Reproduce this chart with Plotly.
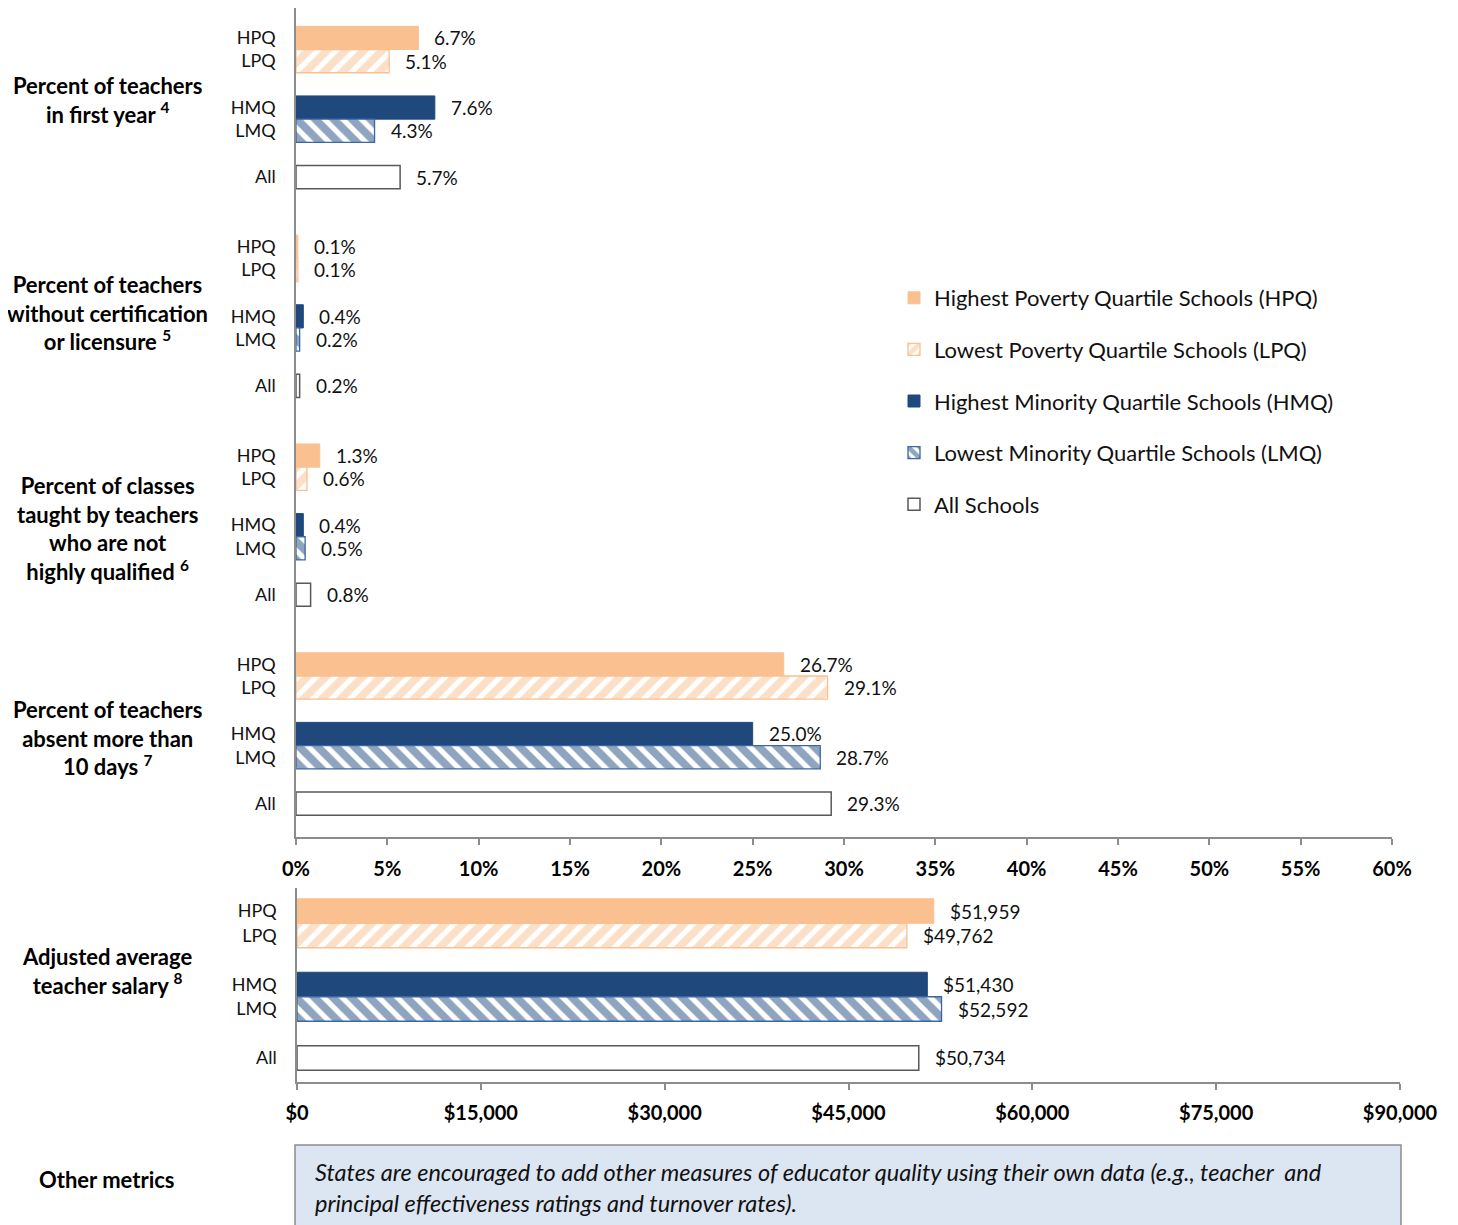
import plotly.graph_objects as go

# ---------------- data ----------------
categories = ["HPQ", "LPQ", "HMQ", "LMQ", "All"]
series_names = [
    "Highest Poverty Quartile Schools (HPQ)",
    "Lowest Poverty Quartile Schools (LPQ)",
    "Highest Minority Quartile Schools (HMQ)",
    "Lowest Minority Quartile Schools (LMQ)",
    "All Schools",
]
metric_labels = [
    "Percent of teachers<br>in first year <sup>4</sup>",
    "Percent of teachers<br>without certification<br>or licensure <sup>5</sup>",
    "Percent of classes<br>taught by teachers<br>who are not<br>highly qualified <sup>6</sup>",
    "Percent of teachers<br>absent more than<br>10 days <sup>7</sup>",
]
# values per metric, in category order HPQ, LPQ, HMQ, LMQ, All
first_year = [6.7, 5.1, 7.6, 4.3, 5.7]
no_cert = [0.1, 0.1, 0.4, 0.2, 0.2]
not_hq = [1.3, 0.6, 0.4, 0.5, 0.8]
absent = [26.7, 29.1, 25.0, 28.7, 29.3]
salary = [51959, 49762, 51430, 52592, 50734]
salary_label = "Adjusted average<br>teacher salary <sup>8</sup>"
other_label = "Other metrics"
other_text = ("States are encouraged to add other measures of educator quality using their own data (e.g., teacher  and<br>"
              "principal effectiveness ratings and turnover rates).")
pct_ticks = [0, 5, 10, 15, 20, 25, 30, 35, 40, 45, 50, 55, 60]
pct_tick_text = [f"{v}%" for v in pct_ticks]
sal_ticks = [0, 15000, 30000, 45000, 60000, 75000, 90000]
sal_tick_text = [f"${v:,}" for v in sal_ticks]

# ---------------- layout helpers ----------------
OFF = 8                      # page body margin
W, H = 1458 - OFF, 1225 - OFF
ML = 296 - OFF
MR = W - (1400 - OFF)
PW = W - ML - MR
def py(p):  # page pixel y -> paper
    return 1 - (p - OFF) / H
def px(p):  # page pixel x -> paper
    return (p - OFF - ML) / PW

slot = [0, 1, 3, 4, 6]     # within-group slot positions
group_step = 9

FONT = "Lato"
peach = "#FAC090"
navy = "#1F497D"
styles = [
    dict(color=peach, line=dict(color=peach, width=1)),
    dict(color="white", line=dict(color=peach, width=1.3),
         pattern=dict(shape="/", fgcolor=peach, bgcolor="white", size=13, solidity=0.6, fillmode="overlay")),
    dict(color=navy, line=dict(color=navy, width=1)),
    dict(color="white", line=dict(color="#3A67A3", width=1.3),
         pattern=dict(shape="\\", fgcolor=navy, bgcolor="white", size=13, solidity=0.6, fillmode="overlay")),
    dict(color="white", line=dict(color="#595959", width=1.5)),
]

metrics = [first_year, no_cert, not_hq, absent]

fig = go.Figure()
annotations = []
label_font = dict(family=FONT, size=19, color="#111")

# top subplot
for si, name in enumerate(series_names):
    xs = [m[si] for m in metrics]
    ys = [g * group_step + slot[si] for g in range(len(metrics))]
    fig.add_trace(go.Bar(
        x=xs, y=ys, orientation="h", width=1.0, name=name,
        marker=styles[si], legendgroup=name, showlegend=True,
        xaxis="x", yaxis="y", hoverinfo="x+name",
    ))
    for xv, yv in zip(xs, ys):
        annotations.append(dict(x=xv, y=yv, xref="x", yref="y", text=f"{xv:.1f}%",
                                showarrow=False, xanchor="left", xshift=14, yanchor="middle",
                                font=label_font))

# bottom subplot
for si, name in enumerate(series_names):
    fig.add_trace(go.Bar(
        x=[salary[si]], y=[slot[si]], orientation="h", width=1.0, name=name,
        marker=styles[si], legendgroup=name, showlegend=False,
        xaxis="x2", yaxis="y2", hoverinfo="x+name",
    ))
    annotations.append(dict(x=salary[si], y=slot[si], xref="x2", yref="y2", text=f"${salary[si]:,}",
                            showarrow=False, xanchor="left", xshift=14, yanchor="middle",
                            font=label_font))

# group labels
gl_font = dict(family=FONT, size=22, color="#000", weight="bold")
for lab, cy in zip(metric_labels, [100, 313, 528, 738]):
    annotations.append(dict(x=px(107), y=py(cy), xref="paper", yref="paper", text=lab,
                            showarrow=False, xanchor="center", yanchor="middle", align="center",
                            font=gl_font))
annotations.append(dict(x=px(107), y=py(971), xref="paper", yref="paper", text=salary_label,
                        showarrow=False, xanchor="center", yanchor="middle", align="center", font=gl_font))
annotations.append(dict(x=px(107), y=py(1179), xref="paper", yref="paper", text=other_label,
                        showarrow=False, xanchor="center", yanchor="middle", align="center", font=gl_font))
annotations.append(dict(x=px(313), y=py(1187), xref="paper", yref="paper", text=other_text,
                        showarrow=False, xanchor="left", yanchor="middle", align="left",
                        font=dict(family=FONT, size=23.5, color="#111", style="italic")))

shapes = [dict(type="rect", xref="paper", yref="paper", x0=px(295), x1=px(1401), y0=-0.05, y1=py(1145),
               fillcolor="#DCE6F2", line=dict(color="#8C8C8C", width=1.5), layer="below")]

top_ticks = [g * group_step + s for g in range(len(metrics)) for s in slot]
top_text = categories * len(metrics)

axis_common = dict(showgrid=False, zeroline=False, showline=True, linecolor="#8C8C8C", linewidth=1.5)
xtick_font = dict(family=FONT, size=20, color="#000", weight="bold")
fig.update_layout(
    width=W, height=H,
    margin=dict(l=ML, r=MR, t=0, b=0),
    plot_bgcolor="white", paper_bgcolor="white",
    barmode="overlay",
    font=dict(family=FONT, color="#111"),
    xaxis=dict(domain=[0, (1392 - 296) / PW], range=[0, 60], tickvals=pct_ticks, ticktext=pct_tick_text,
               ticks="outside", ticklen=6, tickcolor="#8C8C8C", tickwidth=1.5, ticklabelstandoff=7,
               tickfont=xtick_font, anchor="y", **axis_common),
    yaxis=dict(domain=[py(837), 1], range=[34.44, -1.29], tickvals=top_ticks, ticktext=top_text,
               ticks="", tickfont=dict(family=FONT, size=18, color="#111"), ticklabelstandoff=15,
               anchor="x", **axis_common),
    xaxis2=dict(domain=[1 / PW, 1], range=[0, 90000], tickvals=sal_ticks, ticktext=sal_tick_text,
                ticks="outside", ticklen=6, tickcolor="#8C8C8C", tickwidth=1.5, ticklabelstandoff=6,
                tickfont=xtick_font, anchor="y2", **axis_common),
    yaxis2=dict(domain=[py(1082), py(888)], range=[6.98, -0.94], tickvals=slot, ticktext=categories,
                ticks="", tickfont=dict(family=FONT, size=18, color="#111"), ticklabelstandoff=15,
                anchor="x2", **axis_common),
    legend=dict(x=px(894), y=py(277), xanchor="left", yanchor="top", traceorder="grouped",
                tracegroupgap=20, font=dict(family=FONT, size=22, color="#111"),
                bgcolor="rgba(0,0,0,0)"),
    annotations=annotations,
    shapes=shapes,
)

fig.write_html("out.html")
